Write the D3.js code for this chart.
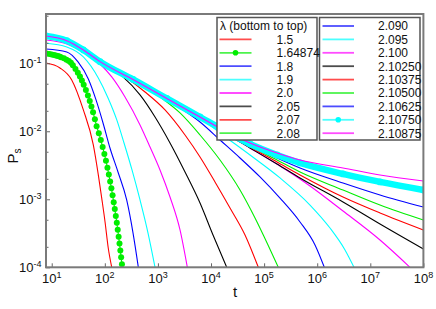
<!DOCTYPE html>
<html lang="en">
<head>
<meta charset="UTF-8" />
<title>Survival probability</title>
<style>
  body { margin: 0; background: #fff; }
  text { font-family: "Liberation Sans", Arial, sans-serif; fill: #111; }
  .curve { fill: none; }
  .frame { fill: none; stroke: #7a7a7a; stroke-width: 2px; }
  .axis path { display: none; }
  .axis line { stroke: #666; stroke-width: 1px; }
  .tick-label { font-size: 13px; }
  .legend-box { fill: #fff; stroke: #555; stroke-width: 1.5px; }
  .legend-text { font-size: 12px; }
</style>
</head>
<body>
<script src="https://cdn.jsdelivr.net/npm/d3@7"></script>
<script>

// lambda values, bottom to top
var lambdas = ["1.5", "1.64874", "1.8", "1.9", "2.0", "2.05", "2.07", "2.08",
               "2.090", "2.095", "2.100", "2.10250", "2.10375", "2.10500",
               "2.10625", "2.10750", "2.10875"];
var colors = ["#ff0000", "#00ee00", "#0000ff", "#00ffff", "#ff00ff", "#000000", "#ff0000", "#00ee00",
              "#0000ff", "#00ffff", "#ff00ff", "#000000", "#ff0000", "#00ee00",
              "#0000ff", "#00ffff", "#ff00ff"];
var withMarkers = ["1.64874", "2.10750"];

var xTicks = [1e1, 1e2, 1e3, 1e4, 1e5, 1e6, 1e7, 1e8];
var xExp = ["1", "2", "3", "4", "5", "6", "7", "8"];
var yTicks = [1e-4, 1e-3, 1e-2, 1e-1];
var yExp = ["-4", "-3", "-2", "-1"];
var yMinor = [2e-4, 5e-4, 2e-3, 5e-3, 2e-2, 5e-2, 2e-1, 5e-1];

// [t, Ps]
var s1500 = [[7.8,0.101],[14.3,0.0853],[23.8,0.0568],[39.4,0.0206],[60.7,0.00629],[75.4,0.00228],
             [87.4,0.00104],[101,0.000464],[116,0.000192],[135,0.0001]];
var s1649 = [[8,0.1396],[9,0.1374],[10,0.1349],[11,0.1327],[12,0.1303],[13,0.1279],[14,0.1259],
             [15,0.1230],[17,0.1180],[19,0.1130],[21,0.1081],[23,0.1016],[25,0.0933],[28,0.0822],
             [31,0.0724],[34,0.0638],[37,0.0556],[40,0.0485],[44,0.0404],[48,0.0337],[52,0.0279],
             [56,0.0231],[60,0.0191],[65,0.0150],[70,0.0119],[77,0.00938],[84,0.00743],[91,0.00587],
             [98,0.00465],[105,0.00368],[112,0.00292],[119,0.00231],[126,0.00183],[133,0.00145],
             [140,0.00115],[147,0.000906],[154,0.000718],[161,0.000569],[168,0.000450],[175,0.000356],
             [182,0.000282],[189,0.000223],[196,0.000177],[203,0.000140],[210,0.000111]];
var s1800 = [[7.8,0.1623],[19.2,0.1466],[31.3,0.1045],[48.9,0.0587],[68.3,0.0289],[93.7,0.0128],
             [125,0.00568],[177,0.00252],[258,0.000977],[340,0.000319],[428,0.0001]];
var s1900 = [[7.8,0.1968],[19.2,0.1737],[39.4,0.1238],[75.4,0.0608],[115,0.0309],[168,0.0147],
             [230,0.00673],[325,0.0027],[460,0.000977],[651,0.000319],[882,0.0001]];
var s2000 = [[7.8,0.2202],[19.2,0.1922],[39.4,0.1466],[81.2,0.0976],[135,0.0629],[240,0.0319],
             [460,0.0124],[710,0.00588],[1095,0.0027],[1690,0.00108],[2608,0.000354],[3579,0.0001]];
var s2050 = [[7.8,0.2394],[19.2,0.2056],[39.4,0.1517],[81.2,0.1027],[220,0.0629],[460,0.0342],
             [882,0.0162],[1690,0.00673],[3239,0.00252],[6207,0.000882],[10906,0.000299],[19758,0.0001]];
var s2070 = [[7.8,0.2435],[19.2,0.2092],[39.4,0.1543],[81.2,0.1045],[258,0.0608],[572,0.0378],
             [1361,0.0206],[3239,0.00882],[6207,0.00419],[11893,0.0018],[22800,0.000745],
             [43690,0.000299],[77780,0.0001]];
var s2080 = [[7.8,0.2478],[19.2,0.2128],[39.4,0.1553],[81.2,0.1045],[340,0.0568],[1095,0.0319],
             [2608,0.0186],[6207,0.00882],[14772,0.00378],[35170,0.00137],[67420,0.000531],
             [118420,0.000213],[185100,0.0001]];
var s2090 = [[7.8,0.2495],[19.2,0.2143],[39.4,0.1563],[81.2,0.1052],[340,0.0568],[710,0.0405],
             [2608,0.022],[6207,0.0137],[14772,0.00745],[35170,0.00405],[83740,0.00213],
             [199300,0.00104],[474400,0.000464],[909100,0.000213],[1361000,0.0001]];
var s2095 = [[7.8,0.2503],[19.2,0.215],[39.4,0.1569],[81.2,0.1056],[340,0.0568],[1465,0.0299],
             [2608,0.0236],[6207,0.0157],[14772,0.00944],[54270,0.00448],[199300,0.00206],
             [731600,0.000824],[1742000,0.000378],[3339000,0.00018],[4932000,0.0001]];
var s2100 = [[7.8,0.2512],[19.2,0.215],[39.4,0.1569],[81.2,0.1056],[340,0.0578],[1465,0.0304],
             [6207,0.0162],[14772,0.01045],[54270,0.00568],[199300,0.00309],[731600,0.00157],
             [3062000,0.000673],[15230000,0.000252],[55930000,0.0001]];
var early = [[7.8,0.252],[19.2,0.215],[39.4,0.1569],[81.2,0.1056],[340,0.0578],[1465,0.0304],[6207,0.0162]];
var s21025 = early.concat([[18350,0.00944],[54270,0.00568],[175000,0.0033],[474400,0.00206],
             [3062000,0.000913],[15230000,0.000433],[1e8,0.000186]]);
var s210375 = early.concat([[18350,0.00976],[54270,0.00588],[175000,0.00354],[474400,0.00228],
             [3062000,0.00108],[15230000,0.000629],[1e8,0.000354]]);
var s21050 = early.concat([[18350,0.00976],[54270,0.00608],[175000,0.00378],[474400,0.00252],
             [3062000,0.00137],[15230000,0.000824],[1e8,0.000496]]);
var s210625 = early.concat([[18350,0.0101],[54270,0.00629],[175000,0.00405],[474400,0.00289],
             [3062000,0.00174],[15230000,0.00116],[1e8,0.00077]]);
var s21075 = early.concat([[18350,0.0101],[54270,0.0065],[175000,0.00448],[474400,0.00342],
             [3062000,0.00236],[15230000,0.0018],[1e8,0.00137]]);
var s210875 = early.concat([[18350,0.0101],[54270,0.00673],[175000,0.0048],[474400,0.00378],
             [3062000,0.00289],[15230000,0.00228],[1e8,0.00186]]);

var seriesData = [s1500, s1649, s1800, s1900, s2000, s2050, s2070, s2080, s2090, s2095,
                  s2100, s21025, s210375, s21050, s210625, s21075, s210875];

var w = 436, h = 309;
var plot = { left: 46, right: 423.4, top: 14, bottom: 267.3 };

var svg = d3.select("body").append("svg")
  .attr("width", w)
  .attr("height", h);

var xScale = d3.scaleLog().domain([7.8, 1e8]).range([plot.left, plot.right]);
var yScale = d3.scaleLog().domain([1e-4, 0.53]).range([plot.bottom, plot.top]);

svg.append("clipPath").attr("id", "clip")
  .append("rect")
  .attr("x", plot.left).attr("y", plot.top)
  .attr("width", plot.right - plot.left)
  .attr("height", plot.bottom - plot.top);

var line = d3.line()
  .x(function(d) { return xScale(d[0]); })
  .y(function(d) { return yScale(d[1]); })
  .curve(d3.curveMonotoneX);

var curves = svg.append("g").attr("clip-path", "url(#clip)");

seriesData.forEach(function(data, i) {
  var marked = withMarkers.indexOf(lambdas[i]) >= 0;
  // the 2.10750 markers sit so close together they read as a thick band
  var band = lambdas[i] === "2.10750";
  curves.append("path")
    .datum(data)
    .attr("class", "curve")
    .style("stroke", colors[i])
    .style("stroke-width", band ? "6.5px" : "1.1px")
    .attr("d", line);
  if (marked) {
    curves.selectAll(".m" + i)
      .data(data)
      .enter()
      .append("circle")
      .attr("cx", function(d) { return xScale(d[0]); })
      .attr("cy", function(d) { return yScale(d[1]); })
      .attr("r", band ? 3.4 : 3)
      .attr("fill", colors[i]);
  }
});

// axes, ticks pointing inward
var xAxis = d3.axisBottom(xScale).tickValues(xTicks).tickSize(-4).tickFormat("");
svg.append("g")
  .attr("class", "axis")
  .attr("transform", "translate(0," + plot.bottom + ")")
  .call(xAxis);

var yAxis = d3.axisLeft(yScale).tickValues(yTicks).tickSize(-4).tickFormat("");
svg.append("g")
  .attr("class", "axis")
  .attr("transform", "translate(" + plot.left + ",0)")
  .call(yAxis);

var yAxisMinor = d3.axisLeft(yScale).tickValues(yMinor).tickSize(-2.5).tickFormat("");
svg.append("g")
  .attr("class", "axis")
  .attr("transform", "translate(" + plot.left + ",0)")
  .call(yAxisMinor);

svg.append("rect")
  .attr("class", "frame")
  .attr("x", plot.left).attr("y", plot.top)
  .attr("width", plot.right - plot.left)
  .attr("height", plot.bottom - plot.top);

// tick labels
xTicks.forEach(function(v, i) {
  var t = svg.append("text")
    .attr("class", "tick-label")
    .attr("x", xScale(v))
    .attr("y", 283)
    .attr("text-anchor", "middle");
  t.append("tspan").text("10");
  t.append("tspan").attr("dy", -5).attr("font-size", "9px").text(xExp[i]);
});

yTicks.forEach(function(v, i) {
  var t = svg.append("text")
    .attr("class", "tick-label")
    .attr("x", 41.5)
    .attr("y", yScale(v) + 5)
    .attr("text-anchor", "end");
  t.append("tspan").text("10");
  t.append("tspan").attr("dy", -5.5).attr("font-size", "9px").text(yExp[i]);
});

// axis titles
var yTitle = svg.append("text")
  .attr("transform", "translate(18,156) rotate(-90)")
  .attr("text-anchor", "middle")
  .attr("font-size", "15px");
yTitle.append("tspan").text("P");
yTitle.append("tspan").attr("dy", 3).attr("font-size", "10px").text("s");

svg.append("text")
  .attr("x", 235)
  .attr("y", 297)
  .attr("text-anchor", "middle")
  .attr("font-size", "15px")
  .text("t");

// legend
var legend = svg.append("g");
legend.append("rect").attr("class", "legend-box")
  .attr("x", 217).attr("y", 17.5).attr("width", 100).attr("height", 122.5);
legend.append("rect").attr("class", "legend-box")
  .attr("x", 319.5).attr("y", 17.5).attr("width", 100.5).attr("height", 122.5);

legend.append("text")
  .attr("class", "legend-text")
  .attr("x", 220).attr("y", 30)
  .text("\u03bb (bottom to top)");

lambdas.forEach(function(lam, i) {
  var left = i < 8;
  var row = left ? i + 1 : i - 8;
  var cy = 26 + row * 13.4;
  var x1 = left ? 219.5 : 322.5,
      x2 = left ? 251.5 : 354,
      tx = left ? 276.5 : 378;
  legend.append("line")
    .attr("x1", x1).attr("x2", x2)
    .attr("y1", cy).attr("y2", cy)
    .attr("stroke", colors[i])
    .attr("stroke-width", 1.8)
    .attr("stroke-opacity", 0.7);
  if (withMarkers.indexOf(lam) >= 0) {
    legend.append("circle")
      .attr("cx", (x1 + x2) / 2).attr("cy", cy)
      .attr("r", 2.8)
      .attr("fill", colors[i]);
  }
  legend.append("text")
    .attr("class", "legend-text")
    .attr("x", tx).attr("y", cy + 4.3)
    .text(lam);
});

</script>
</body>
</html>
